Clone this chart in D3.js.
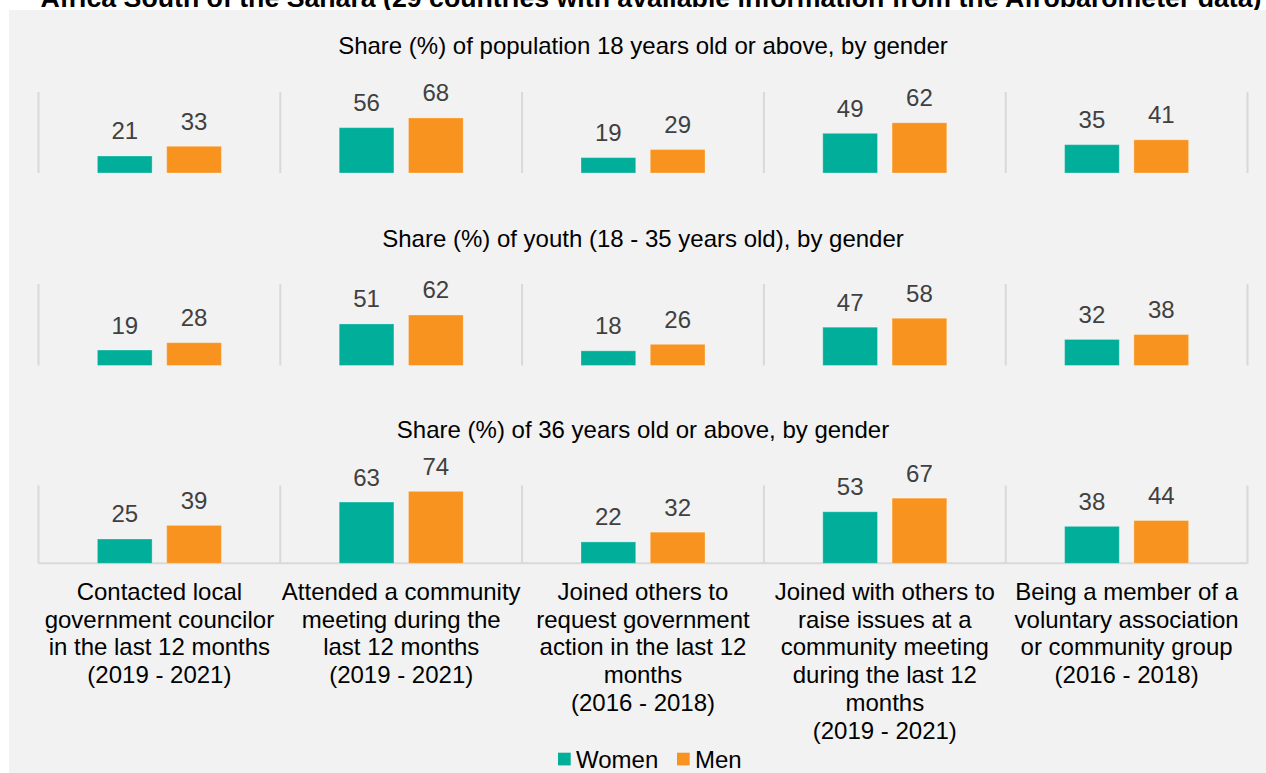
<!DOCTYPE html>
<html>
<head>
<meta charset="utf-8">
<script src="https://cdn.jsdelivr.net/npm/d3@7"></script>
<style>
  html, body { margin: 0; padding: 0; background: #fff; }
  svg { display: block; font-family: "Liberation Sans", Arial, sans-serif; }
</style>
</head>
<body>
<svg id="chart" width="1266" height="773"></svg>
<script>
// ===================================
// Data
// ===================================

const categories = [
  ['Contacted local', 'government councilor', 'in the last 12 months', '(2019 - 2021)'],
  ['Attended a community', 'meeting during the', 'last 12 months', '(2019 - 2021)'],
  ['Joined others to', 'request government', 'action in the last 12', 'months', '(2016 - 2018)'],
  ['Joined with others to', 'raise issues at a', 'community meeting', 'during the last 12', 'months', '(2019 - 2021)'],
  ['Being a member of a', 'voluntary association', 'or community group', '(2016 - 2018)'],
];

const series = ['Women', 'Men'];

const panelTitles = [
  'Share (%) of population 18 years old or above, by gender',
  'Share (%) of youth (18 - 35 years old), by gender',
  'Share (%) of 36 years old or above, by gender',
];

const allWomen = [21, 56, 19, 49, 35];
const allMen = [33, 68, 29, 62, 41];
const youthWomen = [19, 51, 18, 47, 32];
const youthMen = [28, 62, 26, 58, 38];
const olderWomen = [25, 63, 22, 53, 38];
const olderMen = [39, 74, 32, 67, 44];

const chartTitle =
  'Africa South of the Sahara (29 countries with available information from the Afrobarometer data)';

// ===================================
// Layout
// ===================================

const COLORS = { Women: '#00ae9a', Men: '#f7931e' };
const GRID = '#d9d9d9';
const FONT = 24;

const panels = [
  { title: panelTitles[0], titleY: 53.5, top: 92, bottom: 173, max: 100, values: [allWomen, allMen], axis: false },
  { title: panelTitles[1], titleY: 246.5, top: 284, bottom: 365.5, max: 100, values: [youthWomen, youthMen], axis: false },
  { title: panelTitles[2], titleY: 438, top: 485.5, bottom: 563.3, max: 80, values: [olderWomen, olderMen], axis: true },
];

const svg = d3.select('#chart');

// Title sits behind the grey panel, which clips its lower part
svg.append('text')
  .attr('x', 651)
  .attr('y', 7)
  .attr('text-anchor', 'middle')
  .attr('font-size', 26.7)
  .attr('font-weight', 'bold')
  .attr('fill', '#000')
  .text(chartTitle);

svg.append('rect')
  .attr('x', 9)
  .attr('y', 10)
  .attr('width', 1266 - 9)
  .attr('height', 773 - 10)
  .attr('fill', '#f2f2f2');

const catIdx = d3.range(categories.length);

const x = d3.scaleBand()
  .domain(catIdx)
  .range([38.5, 1247.5]);

const xInner = d3.scaleBand()
  .domain(series)
  .range([0, x.bandwidth()])
  .paddingInner(0.21)
  .paddingOuter(0.85);

// ===================================
// Panels
// ===================================

panels.forEach((p) => {
  const y = d3.scaleLinear().domain([0, p.max]).range([p.bottom, p.top]);
  const g = svg.append('g');

  g.append('text')
    .attr('x', 643)
    .attr('y', p.titleY)
    .attr('text-anchor', 'middle')
    .attr('font-size', FONT)
    .attr('fill', '#000')
    .text(p.title);

  // category separators
  g.selectAll('line.sep')
    .data(d3.range(categories.length + 1))
    .join('line')
    .attr('class', 'sep')
    .attr('x1', (i) => (i < categories.length ? x(i) : x.range()[1]))
    .attr('x2', (i) => (i < categories.length ? x(i) : x.range()[1]))
    .attr('y1', p.top)
    .attr('y2', p.bottom)
    .attr('stroke', GRID)
    .attr('stroke-width', 2);

  if (p.axis) {
    g.append('line')
      .attr('x1', x.range()[0])
      .attr('x2', x.range()[1])
      .attr('y1', p.bottom)
      .attr('y2', p.bottom)
      .attr('stroke', GRID)
      .attr('stroke-width', 2);
  }

  const rows = [];
  series.forEach((s, si) => {
    p.values[si].forEach((v, ci) => rows.push({ s, ci, v }));
  });

  g.selectAll('rect.bar')
    .data(rows)
    .join('rect')
    .attr('class', 'bar')
    .attr('x', (d) => x(d.ci) + xInner(d.s))
    .attr('y', (d) => y(d.v))
    .attr('width', xInner.bandwidth())
    .attr('height', (d) => y(0) - y(d.v))
    .attr('fill', (d) => COLORS[d.s])
    .attr('stroke', '#fff')
    .attr('stroke-opacity', 0.3)
    .attr('stroke-width', 1);

  g.selectAll('text.val')
    .data(rows)
    .join('text')
    .attr('class', 'val')
    .attr('x', (d) => x(d.ci) + xInner(d.s) + xInner.bandwidth() / 2)
    .attr('y', (d) => y(d.v) - 16.5)
    .attr('text-anchor', 'middle')
    .attr('font-size', FONT)
    .attr('fill', '#404040')
    .text((d) => d.v);
});

// ===================================
// Category labels
// ===================================

const labels = svg.append('g');
categories.forEach((lines, ci) => {
  const t = labels.append('text')
    .attr('text-anchor', 'middle')
    .attr('font-size', FONT)
    .attr('fill', '#000');
  lines.forEach((line, li) => {
    t.append('tspan')
      .attr('x', x(ci) + x.bandwidth() / 2)
      .attr('y', 600 + li * 27.7)
      .text(line);
  });
});

// ===================================
// Legend
// ===================================

const legendItems = [
  { s: 'Women', x: 558 },
  { s: 'Men', x: 677 },
];
const legend = svg.append('g');
legendItems.forEach((item) => {
  legend.append('rect')
    .attr('x', item.x)
    .attr('y', 752.7)
    .attr('width', 12.7)
    .attr('height', 12.7)
    .attr('fill', COLORS[item.s]);
  legend.append('text')
    .attr('x', item.x + 18)
    .attr('y', 767.5)
    .attr('font-size', FONT)
    .attr('fill', '#000')
    .text(item.s);
});
</script>
</body>
</html>
